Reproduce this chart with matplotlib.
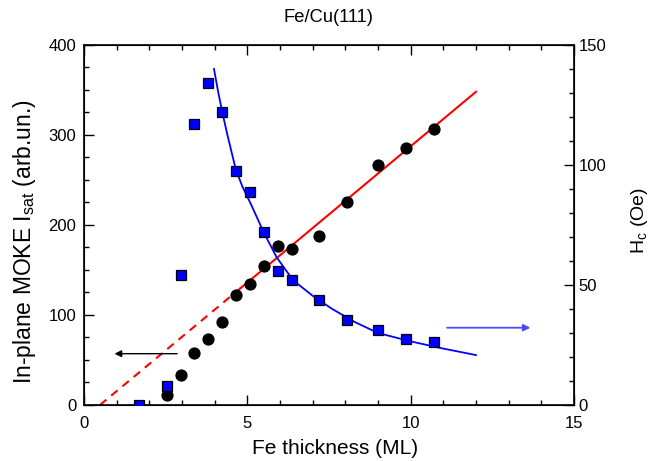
import matplotlib
matplotlib.use("Agg")
import matplotlib.pyplot as plt
from matplotlib.ticker import MultipleLocator

plt.rcParams['font.family'] = ['Liberation Sans', 'DejaVu Sans']
plt.rcParams['mathtext.fontset'] = 'custom'
plt.rcParams['mathtext.rm'] = 'Liberation Sans'
plt.rcParams['mathtext.it'] = 'Liberation Sans:italic'

# MOKE saturation intensity (left axis)
thick_I = [2.53, 2.96, 3.38, 3.81, 4.23, 4.65, 5.08, 5.50, 5.94, 6.36, 7.20, 8.06, 9.01, 9.86, 10.71]
I_sat = [11, 33, 58, 73, 92, 122, 134, 154, 177, 173, 188, 225, 267, 285, 307]

# Coercivity (right axis)
thick_H = [1.68, 2.53, 2.96, 3.38, 3.81, 4.23, 4.65, 5.08, 5.50, 5.94, 6.36, 7.20, 8.06, 9.01, 9.86, 10.71]
Hc = [0, 7.9, 54, 117, 134, 122, 97.5, 88.6, 72.2, 56, 52, 43.7, 35.4, 31.2, 27.6, 26.1]

# Linear fit line (left axis)
fit_dash_x = [0.49, 4.8]
fit_dash_y = [0, 130]
fit_solid_x = [4.8, 12.0]
fit_solid_y = [130, 348]

# Hyperbolic fit curve (right axis)
curve_x = [3.98, 4.1, 4.25, 4.4, 4.65, 4.85, 5.1, 5.5, 5.9, 6.4, 7.0, 7.6, 8.3, 9.0, 10.0, 11.0, 12.0]
curve_y = [140, 131, 121, 112, 98, 91, 84, 72, 61.5, 52, 45.5, 40, 34.5, 30, 26.5, 23.5, 20.8]

fig = plt.figure(figsize=(6.56, 4.61), dpi=100)
ax = fig.add_axes([0.128, 0.1215, 0.747, 0.7809])
ax2 = ax.twinx()

ax.plot(fit_dash_x, fit_dash_y, color='red', lw=1.5, ls=(0, (4, 3)), zorder=2)
ax.plot(fit_solid_x, fit_solid_y, color='red', lw=1.5, zorder=2)
ax.plot(thick_I, I_sat, 'o', color='black', ms=7.8, zorder=3)

ax2.plot(curve_x, curve_y, color='#0000ff', lw=1.3, zorder=2)
ax2.plot(thick_H, Hc, 's', color='#0000ff', mec='black', mew=0.9, ms=6.5, zorder=3)

ax.set_xlim(0, 15)
ax.set_ylim(0, 400)
ax2.set_ylim(0, 150)

ax.xaxis.set_major_locator(MultipleLocator(5))
ax.xaxis.set_minor_locator(MultipleLocator(1))
ax.yaxis.set_major_locator(MultipleLocator(100))
ax.yaxis.set_minor_locator(MultipleLocator(25))
ax2.yaxis.set_major_locator(MultipleLocator(50))
ax2.yaxis.set_minor_locator(MultipleLocator(10))

ax.tick_params(axis='x', which='both', direction='in', top=True, bottom=True, labelsize=12, pad=8)
ax.tick_params(axis='y', which='both', direction='in', left=True, right=False, labelsize=12, pad=5.5)
ax2.tick_params(axis='y', which='both', direction='in', labelsize=12, pad=3.5)
for a in (ax, ax2):
    a.tick_params(which='major', length=7, width=1)
    a.tick_params(which='minor', length=3.6, width=1)
for s in ax.spines.values():
    s.set_linewidth(1.2)

ax.set_xlabel('Fe thickness (ML)', fontsize=15)
ax.xaxis.set_label_coords(0.512, -0.095)
ax.set_ylabel(r'In-plane MOKE I$_{\rm sat}$ (arb.un.)', fontsize=16.5)
ax.yaxis.set_label_coords(-0.094, 0.455)
ax2.set_ylabel(r'H$_{\rm c}$ (Oe)', fontsize=14)
ax2.yaxis.set_label_coords(1.113, 0.511)
fig.text(0.5015, 1 - 17 / 461, 'Fe/Cu(111)', fontsize=13.2, ha='center', va='center')

ax.annotate('', xy=(0.85, 57), xytext=(2.94, 57),
            arrowprops=dict(arrowstyle='-|>', color='black', lw=1, mutation_scale=10))
ax2.annotate('', xy=(13.75, 32.2), xytext=(11.03, 32.2),
             arrowprops=dict(arrowstyle='-|>', color='#4a4aff', lw=1.3, mutation_scale=10))

fig.savefig('out.png', dpi=100)
